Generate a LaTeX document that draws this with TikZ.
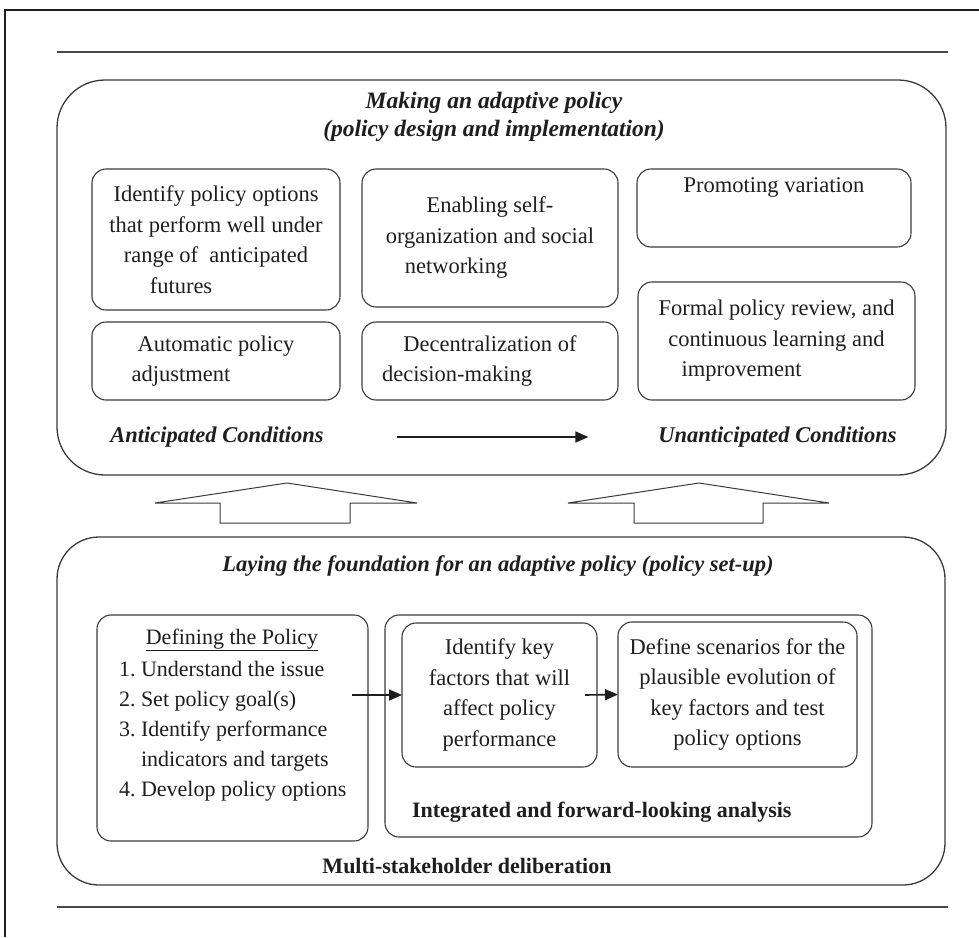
\documentclass[tikz,border=0pt]{standalone}
\usepackage{fontspec}
\setmainfont{Liberation Serif}
\usetikzlibrary{arrows.meta,calc}

\definecolor{ink}{HTML}{1E1E1E}
\definecolor{edge}{HTML}{3A3A3A}
\definecolor{rulegray}{HTML}{4A4A4A}

\begin{document}
\begin{tikzpicture}[x=1pt,y=-1pt,
  every node/.style={font=\fontsize{22.5}{30.5}\selectfont, text=ink, inner sep=0pt, outer sep=0pt},
  card/.style={draw=edge, line width=1.1pt, rounded corners=14pt, align=center},
  panel/.style={draw=edge, line width=1.3pt, rounded corners=48pt},
  heading/.style={font=\fontsize{22.5}{28}\selectfont\bfseries\itshape, align=center},
  boldlabel/.style={font=\fontsize{22}{28}\selectfont\bfseries},
  flow/.style={draw=ink, line width=1.6pt, -{Triangle[length=13pt,width=11pt]}},
  blockarrow/.style={draw=edge, line width=1pt, fill=white}
]
\useasboundingbox (0,0) rectangle (979,937);

% page frame and rules
\draw[ink, line width=1.6pt] (5,937) -- (5,10) -- (979,10);
\draw[rulegray, line width=2pt] (57,52) -- (948,52);
\draw[rulegray, line width=2pt] (57,907) -- (948,907);

% ---------- upper panel: making an adaptive policy ----------
\node[panel, minimum width=889pt, minimum height=395pt] (design) at (501.5,277.5) {};
\node[heading, font=\fontsize{23.5}{28}\selectfont\bfseries\itshape] (designtitle) at (494,117)
  {Making an adaptive policy\\(policy design and implementation)};

\node[card, minimum width=248pt, minimum height=141pt] (optA) at (216,239.5)
  {Identify policy options\\that perform well under\\range of\ \ anticipated\\futures\hspace*{70pt}};
\node[card, minimum width=256pt, minimum height=138pt] (optB) at (490,238)
  {Enabling self-\\organization and social\\networking\hspace*{68pt}};
\node[card, minimum width=274pt, minimum height=78pt] (optC) at (774,208) {};
\node[anchor=north] (optCtext) at (774,178) {Promoting variation};

\node[card, minimum width=248pt, minimum height=78pt] (optD) at (216,361)
  {Automatic policy\\adjustment\hspace*{70pt}};
\node[card, minimum width=256pt, minimum height=78pt] (optE) at (490,361)
  {Decentralization of\\decision-making\hspace*{66pt}};
\node[card, minimum width=277pt, minimum height=118pt] (optF) at (776.5,341)
  {Formal policy review, and\\continuous learning and\\improvement\hspace*{70pt}};

\node[heading] (anticipated) at (217,437) {Anticipated Conditions};
\node[heading] (unanticipated) at (777.5,437) {Unanticipated Conditions};
\draw[flow, shorten <=73pt, shorten >=70pt] (anticipated) -- (unanticipated);

% hollow block arrows from the set-up panel to the design panel
\draw[blockarrow] (155,503) -- (287,483) -- (417,503) -- (350,503) -- (350,523)
  -- (220,523) -- (220,503) -- cycle;
\draw[blockarrow] (568,503) -- (699,483) -- (829,503) -- (763,503) -- (763,523)
  -- (634,523) -- (634,503) -- cycle;

% ---------- lower panel: laying the foundation ----------
\node[panel, rounded corners=42pt, minimum width=888pt, minimum height=348pt] (setup) at (501,711) {};
\node[heading] (setuptitle) at (498,566)
  {Laying the foundation for an adaptive policy (policy set-up)};

\node[card, minimum width=271pt, minimum height=226pt] (define) at (232.5,728) {};
\node[font=\fontsize{22}{30}\selectfont] (definehead) at (232,640) {\underline{Defining the Policy}};
\node[anchor=north west, font=\fontsize{22}{30}\selectfont] (definelist) at (119,655)
  {\begin{tabular}{@{}l@{\ }l@{}}
   1. & Understand the issue\\
   2. & Set policy goal(s)\\
   3. & Identify performance\\
      & indicators and targets\\
   4. & Develop policy options
   \end{tabular}};

\node[card, minimum width=487pt, minimum height=222pt] (analysis) at (628.5,726) {};
\node[card, minimum width=195pt, minimum height=144pt] (keyfactors) at (499.5,695)
  {Identify key\\factors that will\\affect policy\\performance};
\node[card, minimum width=239pt, minimum height=145pt] (scenarios) at (737.5,694.5)
  {Define scenarios for the\\plausible evolution of\\key factors and test\\policy options};
\node[boldlabel, anchor=west] (analysislabel) at (412,812)
  {Integrated and forward-looking analysis};
\node[boldlabel] (deliberation) at (467,866) {Multi-stakeholder deliberation};

\draw[flow] ($(define.east |- keyfactors.west)+(-16,0)$) -- (keyfactors.west);
\draw[flow] ([xshift=-12pt]keyfactors.east) -- (scenarios.west);
\end{tikzpicture}
\end{document}
